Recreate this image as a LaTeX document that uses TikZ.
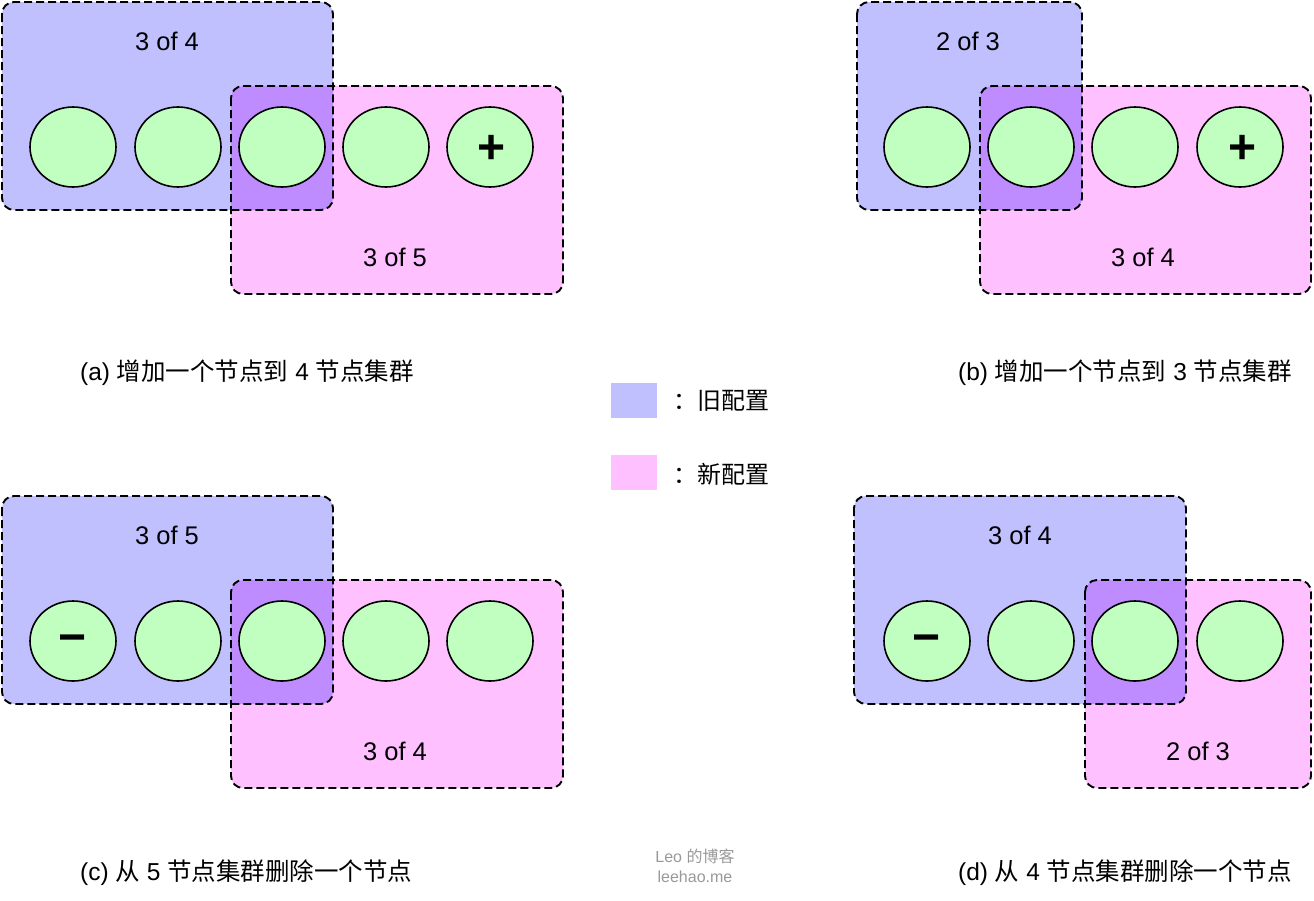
\documentclass[tikz,border=0pt]{standalone}
\usepackage{fontspec}
\setmainfont{Liberation Sans}
\newfontfamily\cjk{Noto Sans CJK SC}
\usetikzlibrary{shapes.geometric}
\definecolor{oldc}{HTML}{C0C0FF}
\definecolor{newc}{HTML}{FFC0FF}
\definecolor{bothc}{HTML}{BF8CFF}
\definecolor{nodec}{HTML}{C0FFC0}
\definecolor{markc}{HTML}{999999}
\tikzset{
  cfgborder/.style={draw=black, line width=1.9pt, dash pattern=on 8pt off 4pt, rounded corners=12pt},
  srv/.style={ellipse, draw=black, line width=1.6pt, fill=nodec, minimum width=86pt, minimum height=80pt, inner sep=0pt},
  boxlabel/.style={inner sep=0pt, font=\fontsize{25.5}{28}\selectfont},
  caption/.style={inner sep=0pt, anchor=west, font=\fontsize{24.5}{28}\selectfont},
  sign/.style={inner sep=0pt, font=\fontsize{48}{50}\selectfont\bfseries},
  legendtext/.style={inner sep=0pt, anchor=west, font=\fontsize{24}{28}\selectfont\cjk},
  wm/.style={inner sep=0pt, text=markc, font=\fontsize{16}{18}\selectfont}
}
\begin{document}
\begin{tikzpicture}[x=1pt,y=-1pt]
\useasboundingbox (0,0) rectangle (1314,900);

% ---------- (a) ----------
\fill[oldc, rounded corners=12pt] (2,2) rectangle (333,210);
\fill[newc, rounded corners=12pt] (231,86) rectangle (563,294);
\begin{scope}
  \clip[rounded corners=12pt] (231,86) rectangle (563,294);
  \fill[bothc, rounded corners=12pt] (2,2) rectangle (333,210);
\end{scope}
\draw[cfgborder] (2,2) rectangle (333,210);
\draw[cfgborder] (231,86) rectangle (563,294);
\node[srv] (a1) at (73,147) {};
\node[srv] (a2) at (178,147) {};
\node[srv] (a3) at (282,147) {};
\node[srv] (a4) at (386,147) {};
\node[srv] (a5) at (490,147) {};
\node[sign] (aplus) at (492,149) {+};
\node[boxlabel] (aold) at (167,41) {3 of 4};
\node[boxlabel] (anew) at (395,257) {3 of 5};
\node[caption] (acap) at (80,373) {(a) {\cjk 增加一个节点到} 4 {\cjk 节点集群}};

% ---------- (b) ----------
\fill[oldc, rounded corners=12pt] (857,2) rectangle (1082,210);
\fill[newc, rounded corners=12pt] (980,86) rectangle (1311,294);
\begin{scope}
  \clip[rounded corners=12pt] (980,86) rectangle (1311,294);
  \fill[bothc, rounded corners=12pt] (857,2) rectangle (1082,210);
\end{scope}
\draw[cfgborder] (857,2) rectangle (1082,210);
\draw[cfgborder] (980,86) rectangle (1311,294);
\node[srv] (b1) at (927,147) {};
\node[srv] (b2) at (1031,147) {};
\node[srv] (b3) at (1135,147) {};
\node[srv] (b4) at (1240,147) {};
\node[sign] (bplus) at (1242,149) {+};
\node[boxlabel] (bold) at (968,41) {2 of 3};
\node[boxlabel] (bnew) at (1143,257) {3 of 4};
\node[caption] (bcap) at (958,373) {(b) {\cjk 增加一个节点到} 3 {\cjk 节点集群}};

% ---------- (c) ----------
\fill[oldc, rounded corners=12pt] (2,496) rectangle (333,704);
\fill[newc, rounded corners=12pt] (231,580) rectangle (563,788);
\begin{scope}
  \clip[rounded corners=12pt] (231,580) rectangle (563,788);
  \fill[bothc, rounded corners=12pt] (2,496) rectangle (333,704);
\end{scope}
\draw[cfgborder] (2,496) rectangle (333,704);
\draw[cfgborder] (231,580) rectangle (563,788);
\node[srv] (c1) at (73,641) {};
\node[srv] (c2) at (178,641) {};
\node[srv] (c3) at (282,641) {};
\node[srv] (c4) at (386,641) {};
\node[srv] (c5) at (490,641) {};
\node[sign] (cminus) at (73,644) {−};
\node[boxlabel] (cold) at (167,535) {3 of 5};
\node[boxlabel] (cnew) at (395,751) {3 of 4};
\node[caption] (ccap) at (80,873) {(c) {\cjk 从} 5 {\cjk 节点集群删除一个节点}};

% ---------- (d) ----------
\fill[oldc, rounded corners=12pt] (854,496) rectangle (1186,704);
\fill[newc, rounded corners=12pt] (1085,580) rectangle (1311,788);
\begin{scope}
  \clip[rounded corners=12pt] (1085,580) rectangle (1311,788);
  \fill[bothc, rounded corners=12pt] (854,496) rectangle (1186,704);
\end{scope}
\draw[cfgborder] (854,496) rectangle (1186,704);
\draw[cfgborder] (1085,580) rectangle (1311,788);
\node[srv] (d1) at (927,641) {};
\node[srv] (d2) at (1031,641) {};
\node[srv] (d3) at (1135,641) {};
\node[srv] (d4) at (1240,641) {};
\node[sign] (dminus) at (927,644) {−};
\node[boxlabel] (dold) at (1020,535) {3 of 4};
\node[boxlabel] (dnew) at (1198,751) {2 of 3};
\node[caption] (dcap) at (958,873) {(d) {\cjk 从} 4 {\cjk 节点集群删除一个节点}};

% ---------- legend ----------
\fill[oldc] (611,383) rectangle (657,418);
\node[inner sep=0pt] (legold) at (634,400) {};
\node[legendtext] (legoldt) at (673,401) {：旧配置};
\fill[newc] (611,455) rectangle (657,490);
\node[inner sep=0pt] (legnew) at (634,472) {};
\node[legendtext] (legnewt) at (673,474) {：新配置};

% ---------- watermark ----------
\node[wm] (wm1) at (695,856) {Leo {\cjk 的博客}};
\node[wm] (wm2) at (695,877) {leehao.me};
\end{tikzpicture}
\end{document}
